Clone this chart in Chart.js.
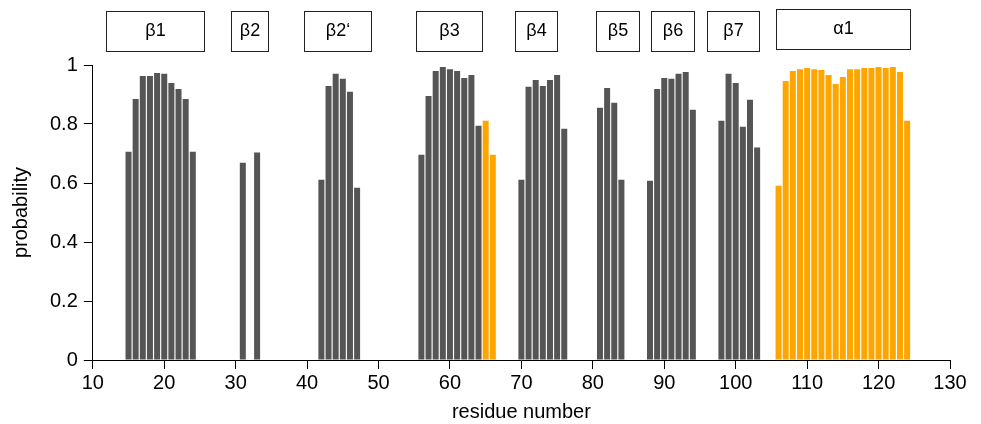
<!DOCTYPE html>
<html>
<head>
<meta charset="utf-8">
<script src="https://cdn.jsdelivr.net/npm/chart.js@4"></script>
<style>
  html, body { margin: 0; background: #fff; }
  #wrap { width: 981px; height: 424px; }
</style>
</head>
<body>
<div id="wrap"><canvas id="chart"></canvas></div>
<script>
// beta-strand residues (grey bars)
const sheetResidues = [
  15, 16, 17, 18, 19, 20, 21, 22, 23, 24,
  31, 33,
  42, 43, 44, 45, 46, 47,
  56, 57, 58, 59, 60, 61, 62, 63, 64,
  70, 71, 72, 73, 74, 75, 76,
  81, 82, 83, 84,
  88, 89, 90, 91, 92, 93, 94,
  98, 99, 100, 101, 102, 103,
];
const sheetProb = [
  0.706, 0.885, 0.963, 0.963, 0.973, 0.970, 0.939, 0.919, 0.885, 0.706,
  0.669, 0.703,
  0.611, 0.929, 0.970, 0.953, 0.909, 0.584,
  0.696, 0.895, 0.980, 0.993, 0.986, 0.980, 0.956, 0.966, 0.794,
  0.611, 0.926, 0.949, 0.929, 0.949, 0.966, 0.784,
  0.855, 0.922, 0.872, 0.611,
  0.608, 0.919, 0.956, 0.953, 0.970, 0.976, 0.848,
  0.811, 0.970, 0.939, 0.791, 0.882, 0.720,
];

// helix residues (orange bars)
const helixResidues = [
  65, 66,
  106, 107, 108, 109, 110, 111, 112, 113, 114, 115,
  116, 117, 118, 119, 120, 121, 122, 123, 124,
];
const helixProb = [
  0.811, 0.696,
  0.591, 0.946, 0.980, 0.986, 0.990, 0.986, 0.983, 0.966, 0.936, 0.959,
  0.986, 0.986, 0.990, 0.990, 0.993, 0.990, 0.993, 0.976, 0.811,
];

// secondary structure elements drawn as boxes above the plot
const elementNames = ["β1", "β2", "β2‘", "β3", "β4", "β5", "β6", "β7", "α1"];
const elementStart = [11.8, 29.3, 39.5, 55.2, 69.1, 80.4, 88.1, 96.0, 105.7];
const elementEnd = [25.6, 34.5, 48.9, 64.5, 75.0, 86.4, 94.2, 103.2, 124.4];

const xTicks = [10, 20, 30, 40, 50, 60, 70, 80, 90, 100, 110, 120, 130];
const yTicks = [0, 0.2, 0.4, 0.6, 0.8, 1];

const colors = {
  sheet: "#555555",
  helix: "#ffa500",
  ink: "#000000",
};
const FONT = "'Liberation Sans', Arial, Helvetica, sans-serif";

const toPoints = (xs, ys) => xs.map((x, i) => ({ x, y: ys[i] }));

const elementBoxes = {
  id: "elementBoxes",
  afterDraw(chart) {
    const { ctx } = chart;
    const x = chart.scales.x;
    ctx.save();
    ctx.strokeStyle = "#222";
    ctx.lineWidth = 1;
    ctx.fillStyle = colors.ink;
    ctx.font = `18px ${FONT}`;
    ctx.textAlign = "center";
    ctx.textBaseline = "middle";
    elementNames.forEach((name, i) => {
      const x0 = Math.round(x.getPixelForValue(elementStart[i])) + 0.5;
      const x1 = Math.round(x.getPixelForValue(elementEnd[i])) + 0.5;
      const top = i === elementNames.length - 1 ? 9.5 : 11.5;
      ctx.strokeRect(x0, top, x1 - x0, 40);
      ctx.fillText(name, (x0 + x1) / 2, top + 20);
    });
    ctx.restore();
  },
};

new Chart(document.getElementById("chart"), {
  type: "bar",
  data: {
    datasets: [
      {
        label: "sheet",
        data: toPoints(sheetResidues, sheetProb),
        backgroundColor: colors.sheet,
      },
      {
        label: "helix",
        data: toPoints(helixResidues, helixProb),
        backgroundColor: colors.helix,
      },
    ],
  },
  options: {
    responsive: true,
    maintainAspectRatio: false,
    animation: false,
    grouped: false,
    categoryPercentage: 1,
    barPercentage: 0.84,
    layout: { padding: { top: 65, right: 31, left: 4, bottom: 0 } },
    plugins: {
      legend: { display: false },
      tooltip: { enabled: false },
    },
    scales: {
      x: {
        type: "linear",
        min: 10,
        max: 130,
        offset: false,
        afterBuildTicks(scale) {
          scale.ticks = xTicks.map((value) => ({ value }));
        },
        grid: {
          offset: false,
          drawOnChartArea: false,
          tickLength: 9,
          color: colors.ink,
        },
        border: { display: true, color: colors.ink, width: 1 },
        ticks: {
          color: colors.ink,
          font: { family: FONT, size: 20 },
          padding: 2,
          maxRotation: 0,
        },
        title: {
          display: true,
          text: "residue number",
          color: colors.ink,
          font: { family: FONT, size: 20 },
          padding: { top: 3, bottom: 0 },
        },
      },
      y: {
        min: 0,
        max: 1,
        afterBuildTicks(scale) {
          scale.ticks = yTicks.map((value) => ({ value }));
        },
        grid: {
          drawOnChartArea: false,
          tickLength: 9,
          color: colors.ink,
        },
        border: { display: true, color: colors.ink, width: 1 },
        ticks: {
          color: colors.ink,
          font: { family: FONT, size: 20 },
          padding: 6,
          callback: (v) => String(v),
        },
        title: {
          display: true,
          text: "probability",
          color: colors.ink,
          font: { family: FONT, size: 20 },
          padding: { top: 5, bottom: 11 },
        },
      },
    },
  },
  plugins: [elementBoxes],
});
</script>
</body>
</html>
